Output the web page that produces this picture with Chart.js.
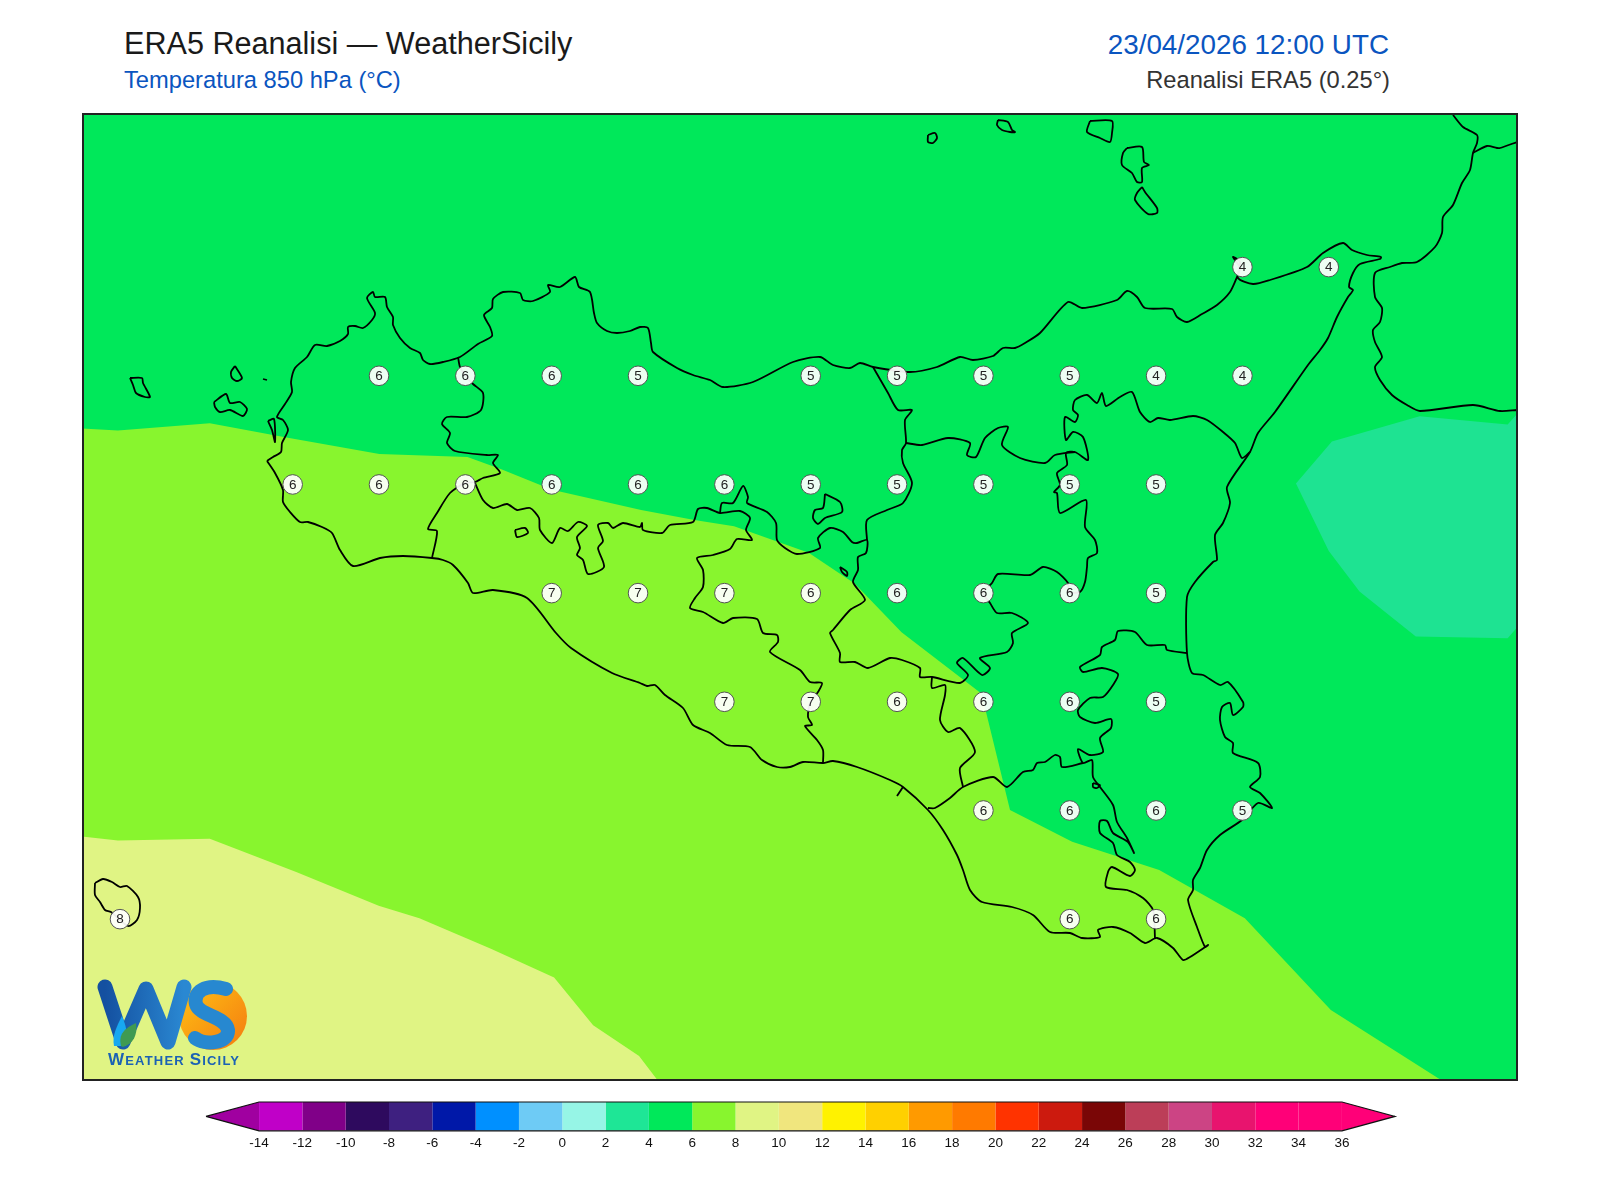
<!DOCTYPE html>
<html lang="it">
<head>
<meta charset="utf-8">
<title>ERA5 Reanalisi — WeatherSicily</title>
<script src="https://cdn.jsdelivr.net/npm/chart.js@4/dist/chart.umd.min.js"></script>
<style>
    html, body { margin: 0; padding: 0; background: #fff; }
    body { width: 1600px; height: 1200px; position: relative; overflow: hidden; font-family: "Liberation Sans", Arial, sans-serif; }
    .label { position: absolute; white-space: nowrap; line-height: 1; }
    #title { left: 124px; top: 28px; font-size: 30.6px; color: #1a1a1a; }
    #subtitle { left: 124px; top: 69px; font-size: 23.7px; color: #0a55c0; }
    #date { right: 211px; top: 31px; font-size: 27.8px; color: #0a55c0; }
    #source { right: 210px; top: 69px; font-size: 23.7px; color: #333; }
    #map-box { position: absolute; left: 82px; top: 113px; width: 1435px; height: 967px; }
    #map-box canvas { display: block; }
    #frame { position: absolute; left: 82px; top: 113px; width: 1436px; height: 968px; box-sizing: border-box; border: 2px solid #222; pointer-events: none; }
    #bar-box { position: absolute; left: 196px; top: 1095px; width: 1210px; height: 60px; }
    #logo { position: absolute; left: 0; top: 0; pointer-events: none; }
</style>
</head>
<body>
<div class="label" id="title">ERA5 Reanalisi — WeatherSicily</div>
<div class="label" id="subtitle">Temperatura 850 hPa (°C)</div>
<div class="label" id="date">23/04/2026 12:00 UTC</div>
<div class="label" id="source">Reanalisi ERA5 (0.25°)</div>
<div id="map-box"><canvas id="map" width="1435" height="967"></canvas></div>
<div id="frame"></div>
<div id="bar-box"><canvas id="bar" width="1210" height="60"></canvas></div>
<svg id="logo" width="1600" height="1200" viewBox="0 0 1600 1200">
    <defs>
        <linearGradient id="wGrad" x1="0" x2="1" y1="0" y2="0">
            <stop offset="0" stop-color="#1450a0"/>
            <stop offset="1" stop-color="#2a88d2"/>
        </linearGradient>
        <linearGradient id="sunGrad" x1="0" x2="1" y1="0" y2="1">
            <stop offset="0" stop-color="#ffc414"/>
            <stop offset="1" stop-color="#f47a10"/>
        </linearGradient>
    </defs>
    <circle cx="213" cy="1016" r="34" fill="url(#sunGrad)"/>
    <path d="M105 987 L123 1042 L146 989 L168 1042 L184 987" fill="none" stroke="url(#wGrad)" stroke-width="15" stroke-linejoin="round" stroke-linecap="round"/>
    <path d="M226 989 C205 983 193 992 196 1004 C199 1016 226 1016 228 1030 C229 1043 205 1046 195 1038" fill="none" stroke="#2788d0" stroke-width="14" stroke-linecap="round"/>
    <path d="M114 1046 C112 1036 116 1028 122 1016 C126 1026 128 1032 126 1046 Z" fill="#18a8f0"/>
    <path d="M121 1046 C118 1034 125 1028 136 1023 C138 1035 133 1044 123 1047 Z" fill="#3f9a52"/>
    <text x="108" y="1065" font-family="Liberation Sans" font-weight="bold" font-size="13" fill="#1b62b4" textLength="131"><tspan font-size="17">W</tspan>EATHER <tspan font-size="17">S</tspan>ICILY</text>
</svg>

<script>
// griglia ERA5: punti etichettati (lon, lat, temperatura arrotondata)
const gridLon = [15.25, 15.5,
    12.75, 13, 13.25, 13.5, 14, 14.25, 14.5, 14.75, 15, 15.25,
    12.5, 12.75, 13, 13.25, 13.5, 13.75, 14, 14.25, 14.5, 14.75, 15,
    13.25, 13.5, 13.75, 14, 14.25, 14.5, 14.75, 15,
    13.75, 14, 14.25, 14.5, 14.75, 15,
    14.5, 14.75, 15, 15.25,
    12, 14.75, 15];
const gridLat = [38.25, 38.25,
    38, 38, 38, 38, 38, 38, 38, 38, 38, 38,
    37.75, 37.75, 37.75, 37.75, 37.75, 37.75, 37.75, 37.75, 37.75, 37.75, 37.75,
    37.5, 37.5, 37.5, 37.5, 37.5, 37.5, 37.5, 37.5,
    37.25, 37.25, 37.25, 37.25, 37.25, 37.25,
    37, 37, 37, 37,
    36.75, 36.75, 36.75];
const gridTemp = [4, 4,
    6, 6, 6, 5, 5, 5, 5, 5, 4, 4,
    6, 6, 6, 6, 6, 6, 5, 5, 5, 5, 5,
    7, 7, 7, 6, 6, 6, 6, 5,
    7, 7, 6, 6, 6, 5,
    6, 6, 6, 5,
    8, 6, 6];

// bande di temperatura: [lon, lat, lon, lat, ...]
const band4to6 = [11.89, 36.38, 16.045, 36.38, 16.045, 38.605, 11.89, 38.605];
const band6to8 = [11.89, 37.879, 11.994, 37.874, 12.26, 37.891, 12.482, 37.858, 12.751, 37.82, 13.006, 37.813,
    13.104, 37.785, 13.251, 37.738, 13.509, 37.691, 13.663, 37.668, 13.778, 37.654, 13.994, 37.593,
    14.127, 37.522, 14.263, 37.41, 14.494, 37.269, 14.509, 37.222, 14.577, 37.001, 14.757, 36.928,
    15.009, 36.863, 15.257, 36.752, 15.506, 36.541, 15.825, 36.38, 11.89, 36.38];
const band8to10 = [11.89, 36.94, 11.994, 36.931, 12.26, 36.935, 12.512, 36.858, 12.749, 36.781, 12.867, 36.752,
    13.074, 36.682, 13.257, 36.616, 13.37, 36.506, 13.503, 36.435, 13.556, 36.38, 11.89, 36.38];
const band2to4 = [15.405, 37.752, 15.509, 37.849, 15.763, 37.907, 16.018, 37.888, 16.053, 37.919, 16.053, 37.428,
    16.018, 37.396, 15.752, 37.4, 15.589, 37.504, 15.5, 37.597];

// linee di costa e confini, digitalizzate dal foglio di riferimento: [x, y, x, y, ...]
const coastSicily = [267,461, 273,457, 281,452, 282,443, 288,430, 283,420, 277,417, 285,404, 292,392, 291,382, 295,368, 307,357,
    315,345, 327,346, 340,341, 348,334, 348,327, 355,326, 363,328, 372,320, 375,313, 367,298, 373,292, 375,297, 385,297, 387,307,
    393,317, 393,325, 400,338, 410,348, 420,353, 423,360, 430,364, 443,362, 460,357, 478,344, 492,336, 490,327, 484,315, 492,308,
    493,299, 503,292, 520,293, 523,300, 533,301, 550,292, 548,285, 560,287, 575,277, 579,287, 590,292, 594,313, 597,323, 607,331,
    617,333, 630,331, 640,327, 648,328, 651,343, 653,352, 677,368, 693,375, 710,380, 723,387, 753,382, 793,362, 820,357, 833,365,
    850,368, 860,363, 873,367, 910,372, 937,367, 960,357, 973,360, 993,356, 1003,348, 1015,348, 1025,343, 1040,333, 1068,302,
    1082,308, 1117,300, 1127,291, 1137,297, 1145,308, 1172,309, 1177,317, 1187,322, 1202,314, 1217,305, 1230,292, 1237,277,
    1240,268, 1233,257, 1240,262, 1238,278, 1253,284, 1270,280, 1307,267, 1323,253, 1343,243, 1352,250, 1367,255, 1381,257,
    1380,259, 1360,264, 1353,273, 1349,287, 1353,290, 1348,297, 1337,317, 1328,338, 1320,350, 1308,365, 1275,412, 1258,433,
    1250,452, 1227,487, 1230,503, 1223,523, 1215,535, 1217,560, 1213,562, 1195,582, 1187,597, 1187,653, 1192,673, 1203,675,
    1220,685, 1228,682, 1243,702, 1243,707, 1233,715, 1230,703, 1222,707, 1220,720, 1225,737, 1233,743, 1233,753, 1258,763,
    1260,777, 1250,787, 1260,793, 1272,808, 1258,803, 1242,820, 1220,835, 1207,850, 1200,868, 1193,880, 1193,890, 1188,900,
    1197,927, 1205,947, 1208,945, 1190,957, 1183,960, 1173,948, 1157,938, 1145,943, 1130,933, 1113,927, 1098,930, 1100,937,
    1082,938, 1070,933, 1050,932, 1033,915, 1012,907, 982,902, 970,890, 963,870, 957,855, 943,830, 928,810, 903,787, 890,780,
    857,767, 833,761, 823,763, 803,762, 790,767, 777,767, 762,760, 750,747, 727,745, 710,733, 693,725, 683,708, 665,695, 655,685,
    647,686, 640,683, 612,673, 571,648, 556,633, 527,598, 493,590, 473,593, 468,583, 453,565, 443,560, 432,558, 403,556, 380,558,
    353,566, 340,550, 332,533, 322,527, 308,522, 300,522, 290,512, 283,502, 283,490, 275,473, 267,461];
const coastStagnone = [268,421, 274,419, 275,442, 272,430, 268,421];
const coastCalabria = [1453,115, 1463,127, 1477,135, 1477,143, 1473,153, 1470,170, 1462,183, 1453,205, 1443,217, 1442,233,
    1435,247, 1417,262, 1402,263, 1390,267, 1375,273, 1375,297, 1382,308, 1380,322, 1373,330, 1375,342, 1382,357, 1375,367,
    1380,380, 1392,395, 1407,405, 1420,411, 1473,405, 1500,411, 1517,410];
const coastCalabriaBranch = [1473,153, 1487,146, 1497,148, 1500,148, 1517,142];
const islePantelleria = [95,883, 103,879, 112,882, 120,887, 127,886, 138,897, 140,908, 137,920, 128,926, 111,912, 105,910, 100,902, 95,895, 95,883];
const isleMarettimo = [130,378, 142,378, 143,383, 150,397, 145,397, 136,393, 133,385, 130,378];
const isleLevanzo = [235,366, 242,378, 237,381, 232,378, 231,372, 235,366];
const isleFavignana = [214,402, 226,394, 230,403, 240,402, 247,409, 243,416, 230,410, 220,412, 215,407, 214,402];
const isleFormica = [263,379, 267,380];
const isleAlicudi = [928,135, 935,133, 937,138, 933,143, 928,142, 928,135];
const isleFilicudi = [998,120, 1008,122, 1012,130, 1015,132, 1010,132, 1002,130, 997,125, 998,120];
const isleSalina = [1090,121, 1112,121, 1112,133, 1110,142, 1100,138, 1087,132, 1090,121];
const isleLipari = [1127,148, 1142,147, 1144,162, 1149,165, 1142,168, 1142,182, 1137,182, 1132,173, 1122,165, 1123,153, 1127,148];
const isleVulcano = [1142,187, 1145,192, 1157,208, 1157,213, 1148,214, 1135,200, 1137,193, 1142,187];
const lakeArancio = [515,530, 525,528, 528,533, 517,537, 515,530];
const lakePozzillo = [825,494, 840,502, 842,512, 825,518, 818,524, 813,518, 815,510, 823,508, 825,494];
const lakePergusa = [840,567, 847,572, 847,576, 842,572, 840,567];
const lakeLentini = [1093,783, 1100,785, 1097,788, 1093,787, 1093,783];
const borderTrapani = [458,357, 460,367, 465,375, 473,384, 483,393, 481,410, 467,417, 447,417, 442,424, 450,433, 447,443, 455,451,
    487,455, 498,455, 493,463, 500,473, 483,478, 475,482, 465,483, 450,493, 437,513, 428,529, 437,531, 432,558];
const borderAgrigentoNord = [475,483, 483,500, 493,508, 507,504, 517,510, 530,508, 539,518, 540,530, 552,543, 560,528, 568,531, 578,522,
    587,526, 577,537, 580,548, 577,555, 583,560, 588,574, 604,567, 598,548, 603,541, 598,525, 608,523, 613,528, 623,523, 640,527,
    642,523, 643,530, 662,533, 670,525, 693,522, 698,509, 707,508, 720,513, 740,511, 750,518, 746,530, 752,540, 737,539, 730,549,
    713,555, 697,558, 703,570, 703,587, 695,598, 690,608, 703,612, 723,623, 733,618, 757,619, 763,633, 777,635, 778,642, 770,652,
    800,670, 810,682, 822,683, 818,692, 810,703, 808,717, 812,725, 805,726, 817,740, 823,750, 823,763];
const borderPalermoSud = [720,513, 722,503, 733,503, 743,486, 748,497, 747,503, 767,512, 776,523, 777,540, 785,548, 797,554, 820,548,
    818,538, 830,528, 843,532, 852,542, 857,543, 867,540, 866,553, 858,557, 858,570, 853,582, 865,600, 850,610, 833,630, 830,633,
    840,653, 840,662, 855,662, 868,668, 890,658, 902,660, 920,668, 920,677, 932,677, 960,683, 968,675, 957,663, 963,658, 982,675,
    990,668, 980,658, 1007,652, 1013,643, 1012,633, 1028,623, 1012,613, 997,613, 990,603, 983,593, 992,583, 998,574, 1030,575,
    1043,567, 1057,572, 1068,583, 1069,592, 1080,592, 1085,582, 1087,567, 1088,558, 1097,553, 1095,540, 1085,527, 1086,500,
    1060,513, 1057,493, 1054,492, 1060,485, 1057,473, 1067,465, 1066,453, 1075,452, 1088,460, 1083,437, 1073,432, 1066,440,
    1065,417, 1075,422, 1078,415, 1073,410, 1075,400, 1087,395, 1097,403, 1102,393, 1106,406, 1120,397, 1132,392, 1140,412,
    1150,422, 1158,418, 1170,420, 1193,416, 1207,420, 1223,432, 1235,443, 1242,458, 1250,452];
const borderMessinaOvest = [873,367, 888,393, 898,410, 912,410, 905,420, 906,443, 902,450, 903,463, 912,483, 903,503, 887,510, 867,520, 867,540];
const borderMessinaSud = [906,443, 922,445, 948,438, 970,443, 967,455, 976,457, 985,438, 998,428, 1008,427, 1002,445, 1020,458, 1045,463, 1055,455, 1075,452];
const borderSiracusa = [1187,653, 1167,650, 1165,645, 1147,645, 1135,632, 1118,631, 1115,640, 1102,647, 1100,655, 1080,667, 1083,672,
    1102,668, 1118,674, 1113,685, 1103,697, 1090,698, 1078,710, 1080,717, 1095,723, 1111,719, 1111,728, 1100,738, 1103,752, 1090,755,
    1078,749, 1083,763, 1092,760, 1093,777, 1100,787, 1113,805, 1117,822, 1127,838, 1134,853, 1128,842, 1113,833, 1107,821, 1100,821,
    1100,833, 1113,843, 1117,855, 1130,862, 1135,870, 1130,876, 1112,867, 1108,872, 1106,887, 1127,890, 1143,898, 1153,910, 1155,938];
const borderRagusa = [1083,763, 1062,767, 1060,757, 1055,755, 1045,762, 1037,763, 1033,770, 1023,772, 1007,787, 993,777, 963,787, 950,798, 935,808, 928,808];
const borderCaltanissetta = [932,677, 932,688, 945,685, 945,695, 940,720, 948,732, 960,728, 975,752, 960,768, 963,787];
const borderGela = [903,787, 897,796];

const basemapLines = [coastSicily, coastStagnone, coastCalabria, coastCalabriaBranch, islePantelleria, isleMarettimo, isleLevanzo,
    isleFavignana, isleFormica, isleAlicudi, isleFilicudi, isleSalina, isleLipari, isleVulcano, lakeArancio, lakePozzillo, lakePergusa,
    lakeLentini, borderTrapani, borderAgrigentoNord, borderPalermoSud, borderMessinaOvest, borderMessinaSud, borderSiracusa,
    borderRagusa, borderCaltanissetta, borderGela];

// scala colori
const barLevels = [-14, -12, -10, -8, -6, -4, -2, 0, 2, 4, 6, 8, 10, 12, 14, 16, 18, 20, 22, 24, 26, 28, 30, 32, 34, 36];
const barColors = ['#c000c8', '#800088', '#2e0a5e', '#3e2080', '#0018a8', '#0090ff', '#6ecbf5', '#96f5e6', '#1ee696', '#00e85a',
    '#88f52e', '#e0f484', '#f0e67e', '#fff200', '#ffd000', '#ff9a00', '#ff7a00', '#ff3300', '#cc1a0e', '#7a0606',
    '#bc3e58', '#cc4484', '#e8146e', '#ff0078', '#ff0078'];
const barLowColor = '#a000a0';
const barHighColor = '#ff0078';
const barMin = -16.45;
const barMax = 38.45;

const FONT = '"Liberation Sans", Arial, sans-serif';

function toPoints(flat) {
    const pts = [];
    for (let i = 0; i < flat.length; i += 2) pts.push({ x: flat[i], y: flat[i + 1] });
    return pts;
}

function bandDataset(flat, color, order) {
    return {
        data: toPoints(flat), showLine: true, fill: 'shape', backgroundColor: color,
        borderWidth: 0, pointRadius: 0, order: order, xAxisID: 'x', yAxisID: 'y'
    };
}

const gridLabels = {
    id: 'gridLabels',
    afterDatasetsDraw(chart) {
        const ctx = chart.ctx;
        ctx.save();
        ctx.font = '13.5px ' + FONT;
        ctx.fillStyle = '#222';
        ctx.textAlign = 'center';
        ctx.textBaseline = 'middle';
        gridTemp.forEach((t, i) => {
            ctx.fillText(String(t), chart.scales.x.getPixelForValue(gridLon[i]), chart.scales.y.getPixelForValue(gridLat[i]) + 0.5);
        });
        ctx.restore();
    }
};

const mapDatasets = [
    {
        data: gridLon.map((lon, i) => ({ x: lon, y: gridLat[i] })),
        showLine: false, pointRadius: 9.8, backgroundColor: 'rgba(255,255,255,0.93)',
        borderColor: '#555', borderWidth: 1, order: 0, xAxisID: 'x', yAxisID: 'y'
    },
    ...basemapLines.map(line => ({
        data: toPoints(line), showLine: true, fill: false, borderColor: '#000', borderWidth: 1.8,
        pointRadius: 0, tension: 0.25, order: 1, xAxisID: 'xMap', yAxisID: 'yMap'
    })),
    bandDataset(band2to4, '#1ee392', 2),
    bandDataset(band8to10, '#e0f484', 2),
    bandDataset(band6to8, '#88f52e', 3),
    bandDataset(band4to6, '#00e85a', 4)
];

new Chart(document.getElementById('map'), {
    type: 'scatter',
    data: { datasets: mapDatasets },
    options: {
        responsive: false,
        animation: false,
        events: [],
        layout: { padding: 0, autoPadding: false },
        plugins: { legend: { display: false }, tooltip: { enabled: false } },
        scales: {
            x: { type: 'linear', display: false, min: 11.89, max: 16.045 },
            y: { type: 'linear', display: false, min: 36.38, max: 38.6045 },
            xMap: { type: 'linear', display: false, min: 82, max: 1517 },
            yMap: { type: 'linear', display: false, min: 113, max: 1080, reverse: true }
        }
    },
    plugins: [gridLabels]
});

// barra colori: una cella per intervallo, due triangoli alle estremità
const barCells = barColors.map((color, i) => ({
    data: [{ x: barLevels[i], y: 0 }, { x: barLevels[i + 1], y: 0 }, { x: barLevels[i + 1], y: 1 }, { x: barLevels[i], y: 1 }],
    showLine: true, fill: 'shape', backgroundColor: color, borderWidth: 0, pointRadius: 0, order: 2
}));
const barEnds = [
    { data: [{ x: barMin, y: 0.5 }, { x: -14, y: 0 }, { x: -14, y: 1 }], color: barLowColor },
    { data: [{ x: barMax, y: 0.5 }, { x: 36, y: 0 }, { x: 36, y: 1 }], color: barHighColor }
].map(e => ({ data: e.data, showLine: true, fill: 'shape', backgroundColor: e.color, borderWidth: 0, pointRadius: 0, order: 2 }));
const barOutline = {
    data: [{ x: barMin, y: 0.5 }, { x: -14, y: 0 }, { x: 36, y: 0 }, { x: barMax, y: 0.5 }, { x: 36, y: 1 }, { x: -14, y: 1 }, { x: barMin, y: 0.5 }],
    showLine: true, fill: false, borderColor: '#111', borderWidth: 1.2, pointRadius: 0, order: 1, clip: false
};

new Chart(document.getElementById('bar'), {
    type: 'scatter',
    data: { datasets: [barOutline, ...barCells, ...barEnds] },
    options: {
        responsive: false,
        animation: false,
        events: [],
        layout: { padding: { left: 10, right: 11, top: 7, bottom: 0 }, autoPadding: false },
        plugins: { legend: { display: false }, tooltip: { enabled: false } },
        scales: {
            x: {
                type: 'linear', min: barMin, max: barMax,
                grid: { display: false, drawTicks: false }, border: { display: false },
                afterBuildTicks: axis => { axis.ticks = barLevels.map(v => ({ value: v })); },
                ticks: { color: '#111', font: { family: FONT, size: 13.5 }, padding: 4, maxRotation: 0, autoSkip: false }
            },
            y: { type: 'linear', min: 0, max: 1, display: false }
        }
    }
});
</script>
</body>
</html>
